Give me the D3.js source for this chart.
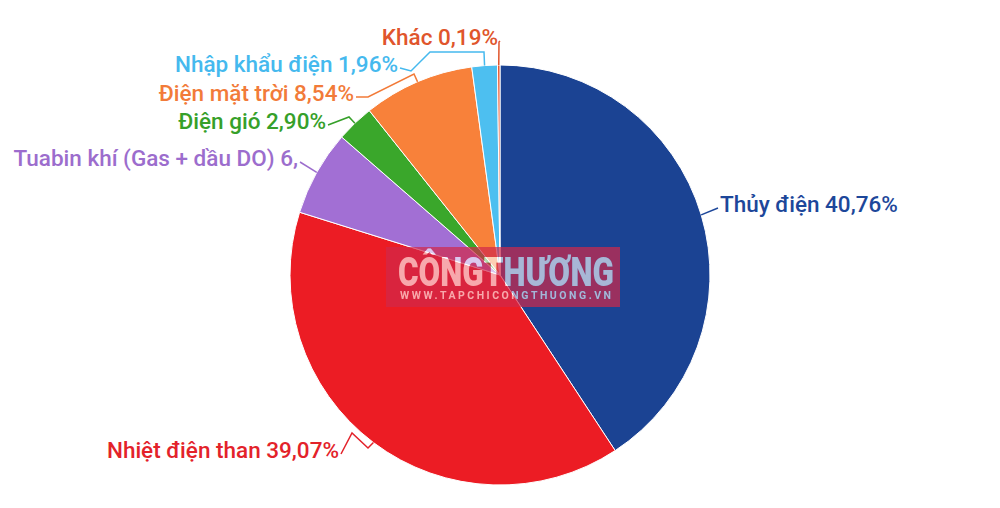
<!DOCTYPE html>
<html><head><meta charset="utf-8">
<script src="https://cdn.jsdelivr.net/npm/d3@7"></script>
<style>body{margin:0;background:#fff}svg{display:block}</style>
</head><body><div id="chart"></div>
<script>
const categories = ["Thủy điện", "Nhiệt điện than", "Tuabin khí (Gas + dầu DO)", "Điện gió", "Điện mặt trời", "Nhập khẩu điện", "Khác"];
const values = [40.76, 39.07, 6.58, 2.90, 8.54, 1.96, 0.19];
const labelTexts = ["Thủy điện 40,76%", "Nhiệt điện than 39,07%", "Tuabin khí (Gas + dầu DO) 6,", "Điện gió 2,90%", "Điện mặt trời 8,54%", "Nhập khẩu điện 1,96%", "Khác 0,19%"];
const sliceColors = ["#1b4393", "#ec1c24", "#a26fd4", "#3aa72b", "#f8813a", "#4dbff0", "#e8552c"];
const textColors = ["#1d479a", "#e3222a", "#9c6dcd", "#36a02a", "#f27b39", "#45b9ee", "#e0552c"];

// label layout (position of label text, anchor, connector bends)
const labelLayout = [
  {x: 720, y: 204, anchor: "start", bends: []},
  {x: 339, y: 450, anchor: "end", bends: [[352, 433], [368, 448]]},
  {x: 298, y: 158, anchor: "end", bends: []},
  {x: 326, y: 121, anchor: "end", bends: [[349, 117]]},
  {x: 354, y: 93, anchor: "end", bends: [[368, 97], [414, 74]]},
  {x: 398, y: 64, anchor: "end", bends: [[411, 71], [430, 52], [484, 52]]},
  {x: 498, y: 37, anchor: "end", bends: [[499, 42]]}
];

const W = 1000, H = 508, cx = 500, cy = 275, R = 210;
const svg = d3.select("#chart").append("svg").attr("width", W).attr("height", H);

const data = categories.map((c, i) => ({name: c, value: values[i], i}));
const pie = d3.pie().sort(null).value(d => d.value).startAngle(0).endAngle(2 * Math.PI);
const arcs = pie(data);
const arc = d3.arc().innerRadius(0).outerRadius(R);

const g = svg.append("g").attr("transform", `translate(${cx},${cy})`);
g.selectAll("path.slice").data(arcs).join("path")
  .attr("class", "slice")
  .attr("d", arc)
  .attr("fill", d => sliceColors[d.data.i])
  .attr("stroke", "#fff").attr("stroke-width", 1);

// connectors
function edgePoint(d) {
  const a = (d.startAngle + d.endAngle) / 2;
  return [cx + R * Math.sin(a), cy - R * Math.cos(a)];
}
svg.selectAll("path.conn").data(arcs).join("path")
  .attr("class", "conn")
  .attr("fill", "none")
  .attr("stroke", d => textColors[d.data.i])
  .attr("stroke-width", 1.5)
  .attr("d", d => {
    const L = labelLayout[d.data.i];
    const start = L.anchor === "start" ? [L.x - 2, L.y + 4] : [L.x + 2, L.y + 4];
    const pts = [start, ...L.bends, edgePoint(d)];
    return d3.line()(pts);
  });

svg.selectAll("text.lbl").data(arcs).join("text")
  .attr("class", "lbl")
  .attr("x", d => labelLayout[d.data.i].x)
  .attr("y", d => labelLayout[d.data.i].y)
  .attr("dy", "0.36em")
  .attr("text-anchor", d => labelLayout[d.data.i].anchor)
  .attr("fill", d => textColors[d.data.i])
  .style("font-family", "Roboto, sans-serif")
  .style("font-weight", 500)
  .style("font-size", "22.5px")
  .text(d => labelTexts[d.data.i]);

// watermark
const defs = svg.append("defs");
const mask = defs.append("mask").attr("id", "wm");
mask.append("rect").attr("x", 0).attr("y", 0).attr("width", W).attr("height", H).attr("fill", "#fff");
function wmText(sel, fill) {
  sel.append("text").attr("x", 398).attr("y", 286)
    .attr("textLength", 216).attr("lengthAdjust", "spacingAndGlyphs")
    .style("font-family", "Roboto, sans-serif").style("font-weight", 900).style("font-size", "41px")
    .attr("fill", fill).text("CÔNGTHƯƠNG");
  sel.append("text").attr("x", 400).attr("y", 299)
    .attr("textLength", 211).attr("lengthAdjust", "spacing")
    .style("font-family", "Roboto, sans-serif").style("font-weight", 700).style("font-size", "10.5px")
    .attr("fill", fill).text("WWW.TAPCHICONGTHUONG.VN");
}
wmText(mask, "#000");
svg.append("rect").attr("x", 386).attr("y", 247).attr("width", 234).attr("height", 60)
  .attr("fill", "#d1284a").attr("opacity", 0.7).attr("mask", "url(#wm)");
const wg = svg.append("g").attr("opacity", 0.62);
wmText(wg, "#fff");
</script></body></html>
